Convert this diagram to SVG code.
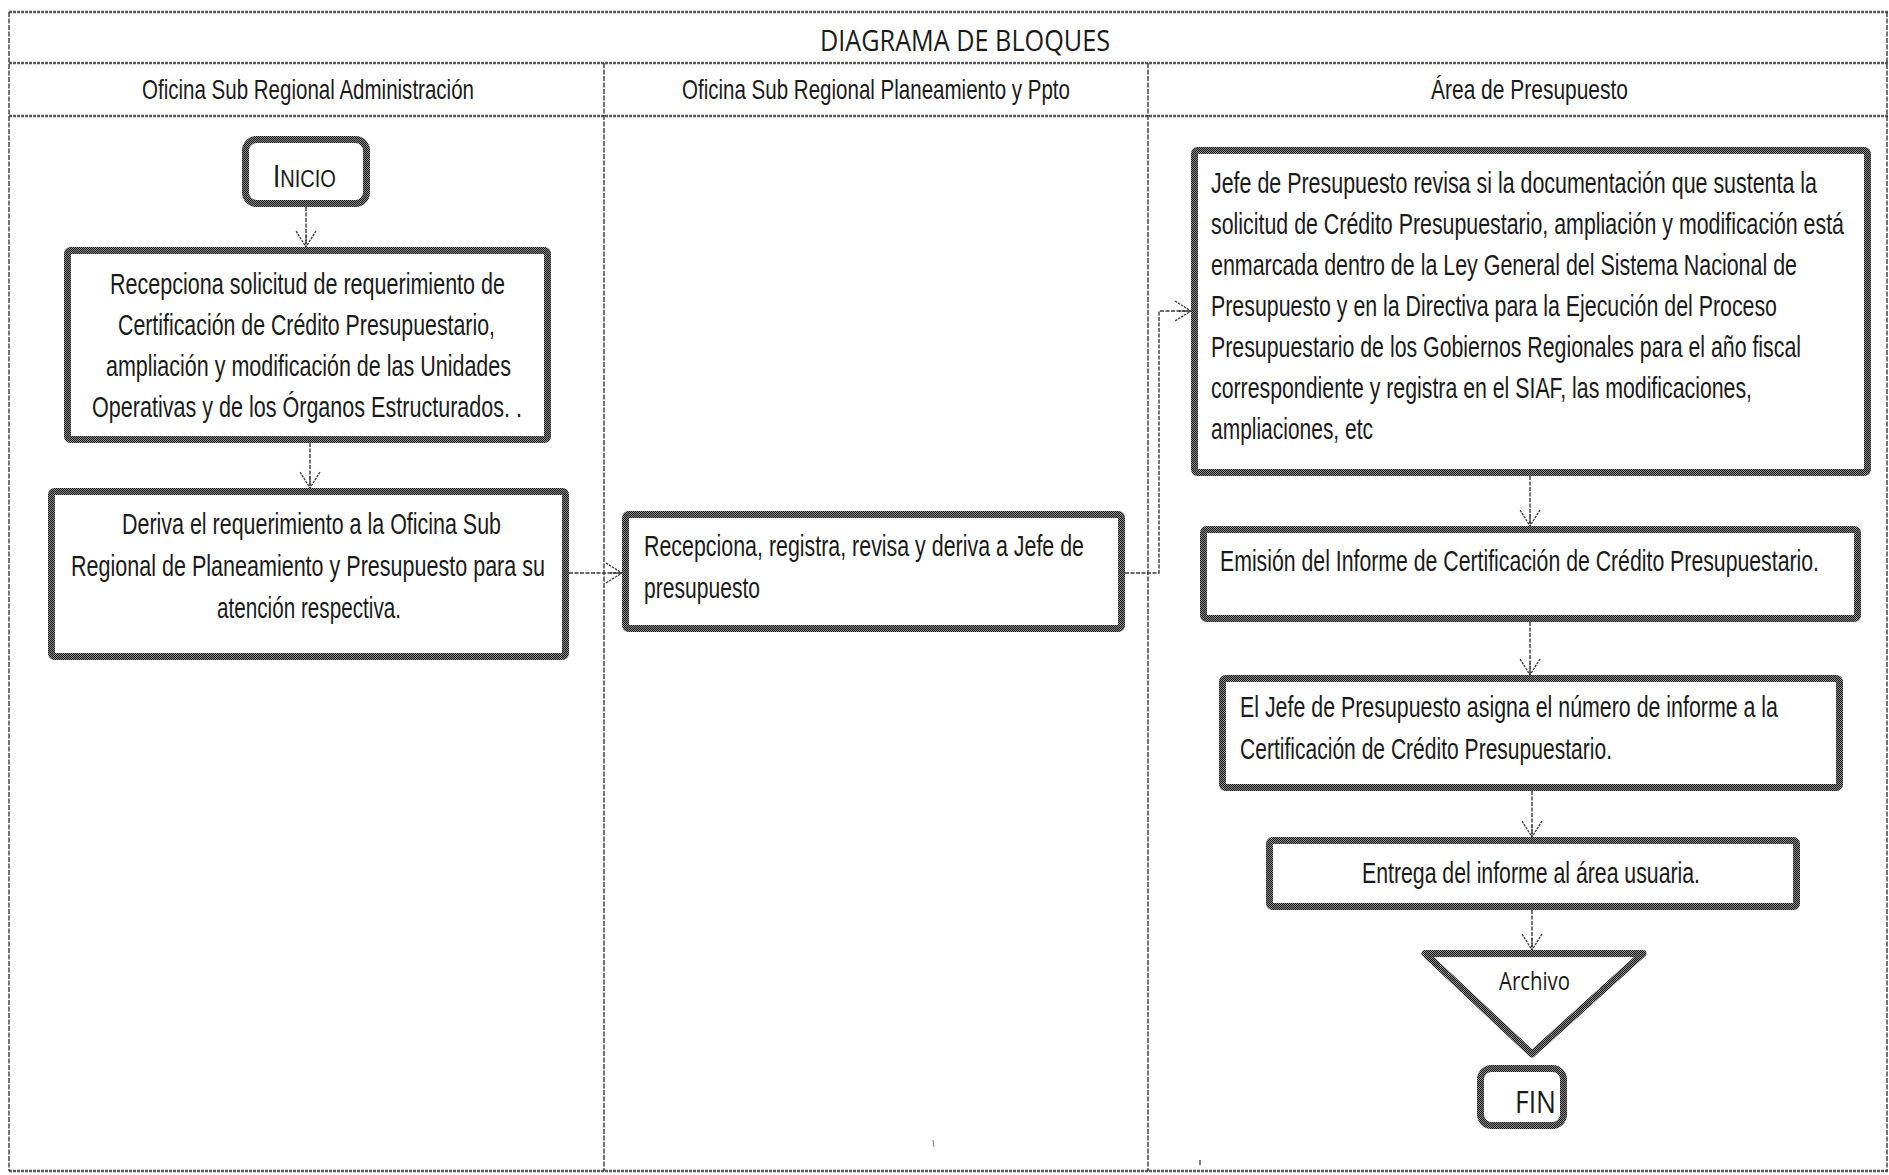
<svg xmlns="http://www.w3.org/2000/svg" width="1889" height="1175" viewBox="0 0 1889 1175">
  <defs>
    <!-- dithered dark texture used for the thick node outlines -->
    <pattern id="grain" width="2" height="2" patternUnits="userSpaceOnUse">
      <rect width="2" height="2" fill="#161616"/>
      <rect x="1" y="0" width="1" height="1" fill="#8c8c8c"/>
      <rect x="0" y="1" width="1" height="1" fill="#8c8c8c"/>
    </pattern>
    <marker id="arr" viewBox="0 0 18 24" refX="17" refY="12" markerWidth="18" markerHeight="24" markerUnits="userSpaceOnUse" orient="auto">
      <path d="M1,2 L17,12 L1,22 M5,12 L17,12" fill="none" stroke="#3a3a3a" stroke-width="1.3" stroke-dasharray="2.5 1"/>
    </marker>
  </defs>
  <style>
    .hline { stroke: #5a5a5a; stroke-width: 2.5; stroke-dasharray: 3 1; fill: none; }
    .vline { stroke: #2a2a2a; stroke-width: 1.3; stroke-dasharray: 5 1.5; fill: none; }
    .box { fill: #ffffff; stroke: url(#grain); stroke-width: 7; }
    .body { font-family: "Liberation Sans Narrow", "Liberation Sans", Arial, sans-serif; font-size: 29px; fill: #1a1a1a; }
    .head { font-family: "Liberation Sans Narrow", "Liberation Sans", Arial, sans-serif; font-size: 28px; fill: #1a1a1a; }
    .cal { font-family: "Open Sans", "Noto Sans", sans-serif; fill: #1a1a1a; }
    .conn { fill: none; stroke: #3a3a3a; stroke-width: 1.4; stroke-dasharray: 4 1.5; marker-end: url(#arr); }
  </style>

  <rect width="1889" height="1175" fill="#ffffff"/>

  <!-- table frame -->
  <g id="frame">
    <line class="hline" x1="9" y1="12" x2="1889" y2="12"/>
    <line class="hline" x1="9" y1="63" x2="1889" y2="63"/>
    <line class="hline" x1="9" y1="116" x2="1889" y2="116"/>
    <line class="hline" x1="9" y1="1171" x2="1889" y2="1171"/>
    <line class="vline" x1="9" y1="12" x2="9" y2="1171"/>
    <line class="vline" x1="604" y1="63" x2="604" y2="1171"/>
    <line class="vline" x1="1148" y1="63" x2="1148" y2="1171"/>
    <line class="vline" x1="1887" y1="12" x2="1887" y2="1171"/>
    <text class="cal" x="820" y="51" font-size="29" textLength="290" lengthAdjust="spacingAndGlyphs">DIAGRAMA DE BLOQUES</text>
    <text class="head" x="142" y="99" textLength="332" lengthAdjust="spacingAndGlyphs">Oficina Sub Regional Administración</text>
    <text class="head" x="682" y="99" textLength="388" lengthAdjust="spacingAndGlyphs">Oficina Sub Regional Planeamiento y Ppto</text>
    <text class="head" x="1431" y="99" textLength="197" lengthAdjust="spacingAndGlyphs">Área de Presupuesto</text>
    <!-- small specks near the bottom of the sheet -->
    <line x1="933" y1="1140" x2="934" y2="1147" stroke="#777" stroke-width="1"/>
    <line x1="1200" y1="1160" x2="1200" y2="1165" stroke="#555" stroke-width="1.5"/>
  </g>

  <!-- connectors -->
  <g id="connectors">
    <path class="conn" d="M306,207 L306,247"/>
    <path class="conn" d="M310,443 L310,488"/>
    <path class="conn" d="M569,573 L622,573"/>
    <path class="conn" d="M1125,573 L1159,573 L1159,311 L1191,311"/>
    <path class="conn" d="M1530,476 L1530,526"/>
    <path class="conn" d="M1530,622 L1530,675"/>
    <path class="conn" d="M1532,791 L1532,837"/>
    <path class="conn" d="M1532,910 L1532,950"/>
  </g>

  <g id="inicio">
    <rect class="box" x="245.5" y="139.5" width="121" height="64" rx="11"/>
    <text class="head" x="273" y="187" textLength="63" lengthAdjust="spacingAndGlyphs"><tspan font-size="31">I</tspan><tspan font-size="24">NICIO</tspan></text>
  </g>

  <g id="recepciona-solicitud">
    <rect class="box" x="67.5" y="250.5" width="480" height="189" rx="3"/>
    <text class="body" x="110" y="294" textLength="395" lengthAdjust="spacingAndGlyphs">Recepciona solicitud  de requerimiento de</text>
    <text class="body" x="118" y="335" textLength="377" lengthAdjust="spacingAndGlyphs">Certificación de Crédito Presupuestario,</text>
    <text class="body" x="106" y="376" textLength="405" lengthAdjust="spacingAndGlyphs">ampliación y modificación  de las Unidades</text>
    <text class="body" x="92" y="417" textLength="430" lengthAdjust="spacingAndGlyphs">Operativas y de los Órganos Estructurados. .</text>
  </g>

  <g id="deriva-requerimiento">
    <rect class="box" x="51.5" y="491.5" width="514" height="165" rx="3"/>
    <text class="body" x="122" y="534" textLength="379" lengthAdjust="spacingAndGlyphs">Deriva el requerimiento a la Oficina  Sub</text>
    <text class="body" x="71" y="576" textLength="474" lengthAdjust="spacingAndGlyphs">Regional de Planeamiento  y Presupuesto para su</text>
    <text class="body" x="217" y="618" textLength="184" lengthAdjust="spacingAndGlyphs">atención respectiva.</text>
  </g>

  <g id="recepciona-registra">
    <rect class="box" x="625.5" y="514.5" width="496" height="114" rx="3"/>
    <text class="body" x="644" y="556" textLength="440" lengthAdjust="spacingAndGlyphs">Recepciona, registra, revisa  y deriva a Jefe de</text>
    <text class="body" x="644" y="598" textLength="116" lengthAdjust="spacingAndGlyphs">presupuesto</text>
  </g>

  <g id="jefe-revisa">
    <rect class="box" x="1194.5" y="150.5" width="673" height="322" rx="3"/>
    <text class="body" x="1211" y="193" textLength="606" lengthAdjust="spacingAndGlyphs">Jefe de Presupuesto revisa  si la documentación  que sustenta  la</text>
    <text class="body" x="1211" y="234" textLength="633" lengthAdjust="spacingAndGlyphs">solicitud  de Crédito Presupuestario,  ampliación  y modificación  está</text>
    <text class="body" x="1211" y="275" textLength="586" lengthAdjust="spacingAndGlyphs">enmarcada dentro de la Ley General del Sistema Nacional de</text>
    <text class="body" x="1211" y="316" textLength="566" lengthAdjust="spacingAndGlyphs">Presupuesto y en la Directiva para la Ejecución  del Proceso</text>
    <text class="body" x="1211" y="357" textLength="590" lengthAdjust="spacingAndGlyphs">Presupuestario de los Gobiernos Regionales  para el año fiscal</text>
    <text class="body" x="1211" y="398" textLength="541" lengthAdjust="spacingAndGlyphs">correspondiente y registra en el SIAF, las modificaciones,</text>
    <text class="body" x="1211" y="439" textLength="162" lengthAdjust="spacingAndGlyphs">ampliaciones,  etc</text>
  </g>

  <g id="emision-informe">
    <rect class="box" x="1203.5" y="529.5" width="654" height="89" rx="3"/>
    <text class="body" x="1220" y="571" textLength="599" lengthAdjust="spacingAndGlyphs">Emisión  del Informe de Certificación  de Crédito Presupuestario.</text>
  </g>

  <g id="asigna-numero">
    <rect class="box" x="1222.5" y="678.5" width="617" height="109" rx="3"/>
    <text class="body" x="1240" y="717" textLength="538" lengthAdjust="spacingAndGlyphs">El Jefe de Presupuesto asigna el número de informe a la</text>
    <text class="body" x="1240" y="759" textLength="372" lengthAdjust="spacingAndGlyphs">Certificación  de Crédito Presupuestario.</text>
  </g>

  <g id="entrega-informe">
    <rect class="box" x="1269.5" y="840.5" width="527" height="66" rx="3"/>
    <text class="body" x="1362" y="883" textLength="338" lengthAdjust="spacingAndGlyphs">Entrega del informe al área usuaria.</text>
  </g>

  <g id="archivo">
    <path class="box" d="M1425,953.5 L1643,953.5 L1532,1054 Z" stroke-linejoin="round"/>
    <text class="cal" x="1499" y="990" font-size="25" textLength="71" lengthAdjust="spacingAndGlyphs">Archivo</text>
  </g>

  <g id="fin">
    <rect class="box" x="1480.5" y="1068.5" width="83" height="57" rx="11"/>
    <text class="cal" x="1515" y="1113" font-size="31" textLength="41" lengthAdjust="spacingAndGlyphs">FIN</text>
  </g>
</svg>
